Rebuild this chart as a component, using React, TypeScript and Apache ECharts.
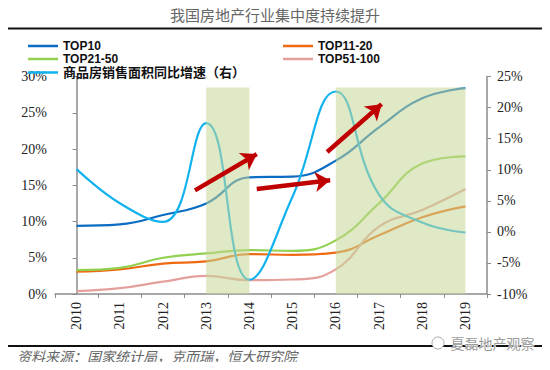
import React, { useEffect, useRef } from "react";
import * as echarts from "echarts";

const years = ["2010", "2011", "2012", "2013", "2014", "2015", "2016", "2017", "2018", "2019"];
const top10 = [9.4, 9.6, 10.9, 12.5, 16.1, 16.2, 18.4, 23.0, 27.0, 28.4];
const top11to20 = [3.1, 3.4, 4.2, 4.5, 5.5, 5.4, 5.7, 8.1, 10.6, 12.1];
const top21to50 = [3.3, 3.6, 5.0, 5.6, 6.05, 5.95, 7.4, 12.5, 18.0, 19.0];
const top51to100 = [0.4, 0.8, 1.7, 2.5, 1.9, 2.0, 3.4, 9.3, 11.6, 14.5];
const salesGrowth = [10.1, 4.6, 1.6, 17.5, -7.7, 5.7, 22.6, 6.0, 1.5, -0.1];

const seriesNames = ["TOP10", "TOP11-20", "TOP21-50", "TOP51-100", "商品房销售面积同比增速（右）"];
const colors = ["#0a6cc2", "#ee6a12", "#92d050", "#e6a09c", "#12b2ef"];

// shaded periods [fromIndex, toIndex], top value
const shadedPeriods = [[3, 4], [6, 9]];
const shadeTop = 28.5;
// arrows in [index, value] space (left axis)
const arrows = [
  [[2.74, 14.3], [4.17, 19.3]],
  [[4.17, 14.5], [5.87, 15.7]],
  [[5.8, 19.6], [7.06, 26.2]],
];

export default function App() {
  const ref = useRef<HTMLDivElement>(null);
  useEffect(() => {
    if (!ref.current) return;
    const chart = echarts.init(ref.current, null, { renderer: "svg" });
    const cjk = "'Liberation Sans', 'Noto Sans CJK SC', sans-serif";
    const serif = "'Liberation Serif', 'Times New Roman', serif";
    const legendPos = [
      [28, 40], [283, 40], [28, 53], [283, 53], [28, 66],
    ];
    const lineSeries = [top10, top11to20, top21to50, top51to100, salesGrowth].map((d, i) => ({
      name: seriesNames[i],
      type: "line",
      data: d,
      yAxisIndex: i === 4 ? 1 : 0,
      smooth: 0.45,
      showSymbol: false,
      symbol: "none",
      z: 2,
      lineStyle: { color: colors[i], width: 2.2 },
      itemStyle: { color: colors[i] },
    }));
    const option: any = {
      animation: false,
      backgroundColor: "#ffffff",
      legend: seriesNames.map((n, i) => ({
        data: [n],
        left: legendPos[i][0],
        top: legendPos[i][1],
        itemWidth: 30,
        itemHeight: 2.5,
        icon: "rect",
        itemGap: 5,
        padding: 0,
        selectedMode: false,
        textStyle: {
          fontFamily: cjk,
          fontWeight: "bold",
          fontSize: i === 4 ? 13 : 12,
          color: "#111",
        },
      })),
      grid: { left: 55, right: 63, top: 76.6, bottom: 76 },
      xAxis: [
        {
          type: "category",
          data: years,
          boundaryGap: true,
          axisLine: { lineStyle: { color: "#8c8c8c", width: 1.5 } },
          axisTick: { show: true, length: 4, lineStyle: { color: "#8c8c8c" } },
          axisLabel: { rotate: 90, fontFamily: serif, fontSize: 14, color: "#222", margin: 8 },
          splitLine: { show: false },
        },
        {
          type: "value",
          min: -0.5,
          max: 9.5,
          show: false,
        },
      ],
      yAxis: [
        {
          type: "value",
          min: 0,
          max: 30,
          interval: 5,
          axisLine: { show: true, lineStyle: { color: "#8c8c8c", width: 1.5 } },
          axisTick: { show: true, length: 4, inside: false, lineStyle: { color: "#8c8c8c" } },
          axisLabel: { formatter: "{value}%", fontFamily: serif, fontSize: 14, color: "#222", margin: 8 },
          splitLine: { show: false },
        },
        {
          type: "value",
          min: -10,
          max: 25,
          interval: 5,
          position: "right",
          axisLine: { show: true, lineStyle: { color: "#8c8c8c", width: 1.5 } },
          axisTick: { show: true, length: 4, lineStyle: { color: "#8c8c8c" } },
          axisLabel: { formatter: "{value}%", fontFamily: serif, fontSize: 14, color: "#222", margin: 10 },
          splitLine: { show: false },
        },
      ],
      series: [
        ...lineSeries,
        {
          name: "shade",
          type: "line",
          xAxisIndex: 1,
          yAxisIndex: 0,
          data: [],
          z: 10,
          silent: true,
          markArea: {
            silent: true,
            z: 10,
            itemStyle: { color: "rgba(196,215,150,0.55)" },
            data: shadedPeriods.map(([a, b]) => [
              { coord: [a, 0] },
              { coord: [b, shadeTop] },
            ]),
          },
        },
        {
          name: "arrows",
          type: "line",
          xAxisIndex: 1,
          yAxisIndex: 0,
          data: [],
          z: 20,
          silent: true,
          itemStyle: { color: "#c00000" },
          markLine: {
            silent: true,
            z: 20,
            symbol: ["none", "arrow"],
            symbolSize: 15,
            label: { show: false },
            itemStyle: { color: "#c00000" },
            lineStyle: { color: "#c00000", width: 4.5, type: "solid", opacity: 1 },
            emphasis: { disabled: true },
            data: arrows.map(([p, q]) => [
              { coord: p, symbol: "none" },
              { coord: q, symbol: "arrow", symbolSize: 15 },
            ]),
          },
        },
      ],
      graphic: [
        {
          type: "text",
          left: "center",
          top: 7,
          style: {
            text: "我国房地产行业集中度持续提升",
            font: "normal 15px 'Noto Sans CJK SC', sans-serif",
            fill: "#666",
          },
        },
        {
          type: "rect",
          shape: { x: 7, y: 27.5, width: 536, height: 2 },
          style: { fill: "#111" },
        },
        {
          type: "rect",
          shape: { x: 7, y: 345, width: 536, height: 2 },
          style: { fill: "#111" },
        },
        {
          type: "text",
          left: 17,
          top: 349,
          style: {
            text: "资料来源：国家统计局，克而瑞，恒大研究院",
            font: "italic 14px 'Noto Sans CJK SC', sans-serif",
            fill: "#666",
          },
        },
        {
          type: "circle",
          shape: { cx: 438, cy: 343, r: 6 },
          style: { fill: "#fff", stroke: "#aaa", lineWidth: 1 },
        },
        {
          type: "text",
          left: 450,
          top: 335,
          style: {
            text: "夏磊地产观察",
            font: "normal 14px 'Noto Sans CJK SC', sans-serif",
            fill: "#9a9a9a",
            stroke: "#fff",
            lineWidth: 1,
          },
        },
      ],
    };
    chart.setOption(option);
    return () => chart.dispose();
  }, []);
  return <div ref={ref} style={{ width: 550, height: 370, margin: -8 }} />;
}
